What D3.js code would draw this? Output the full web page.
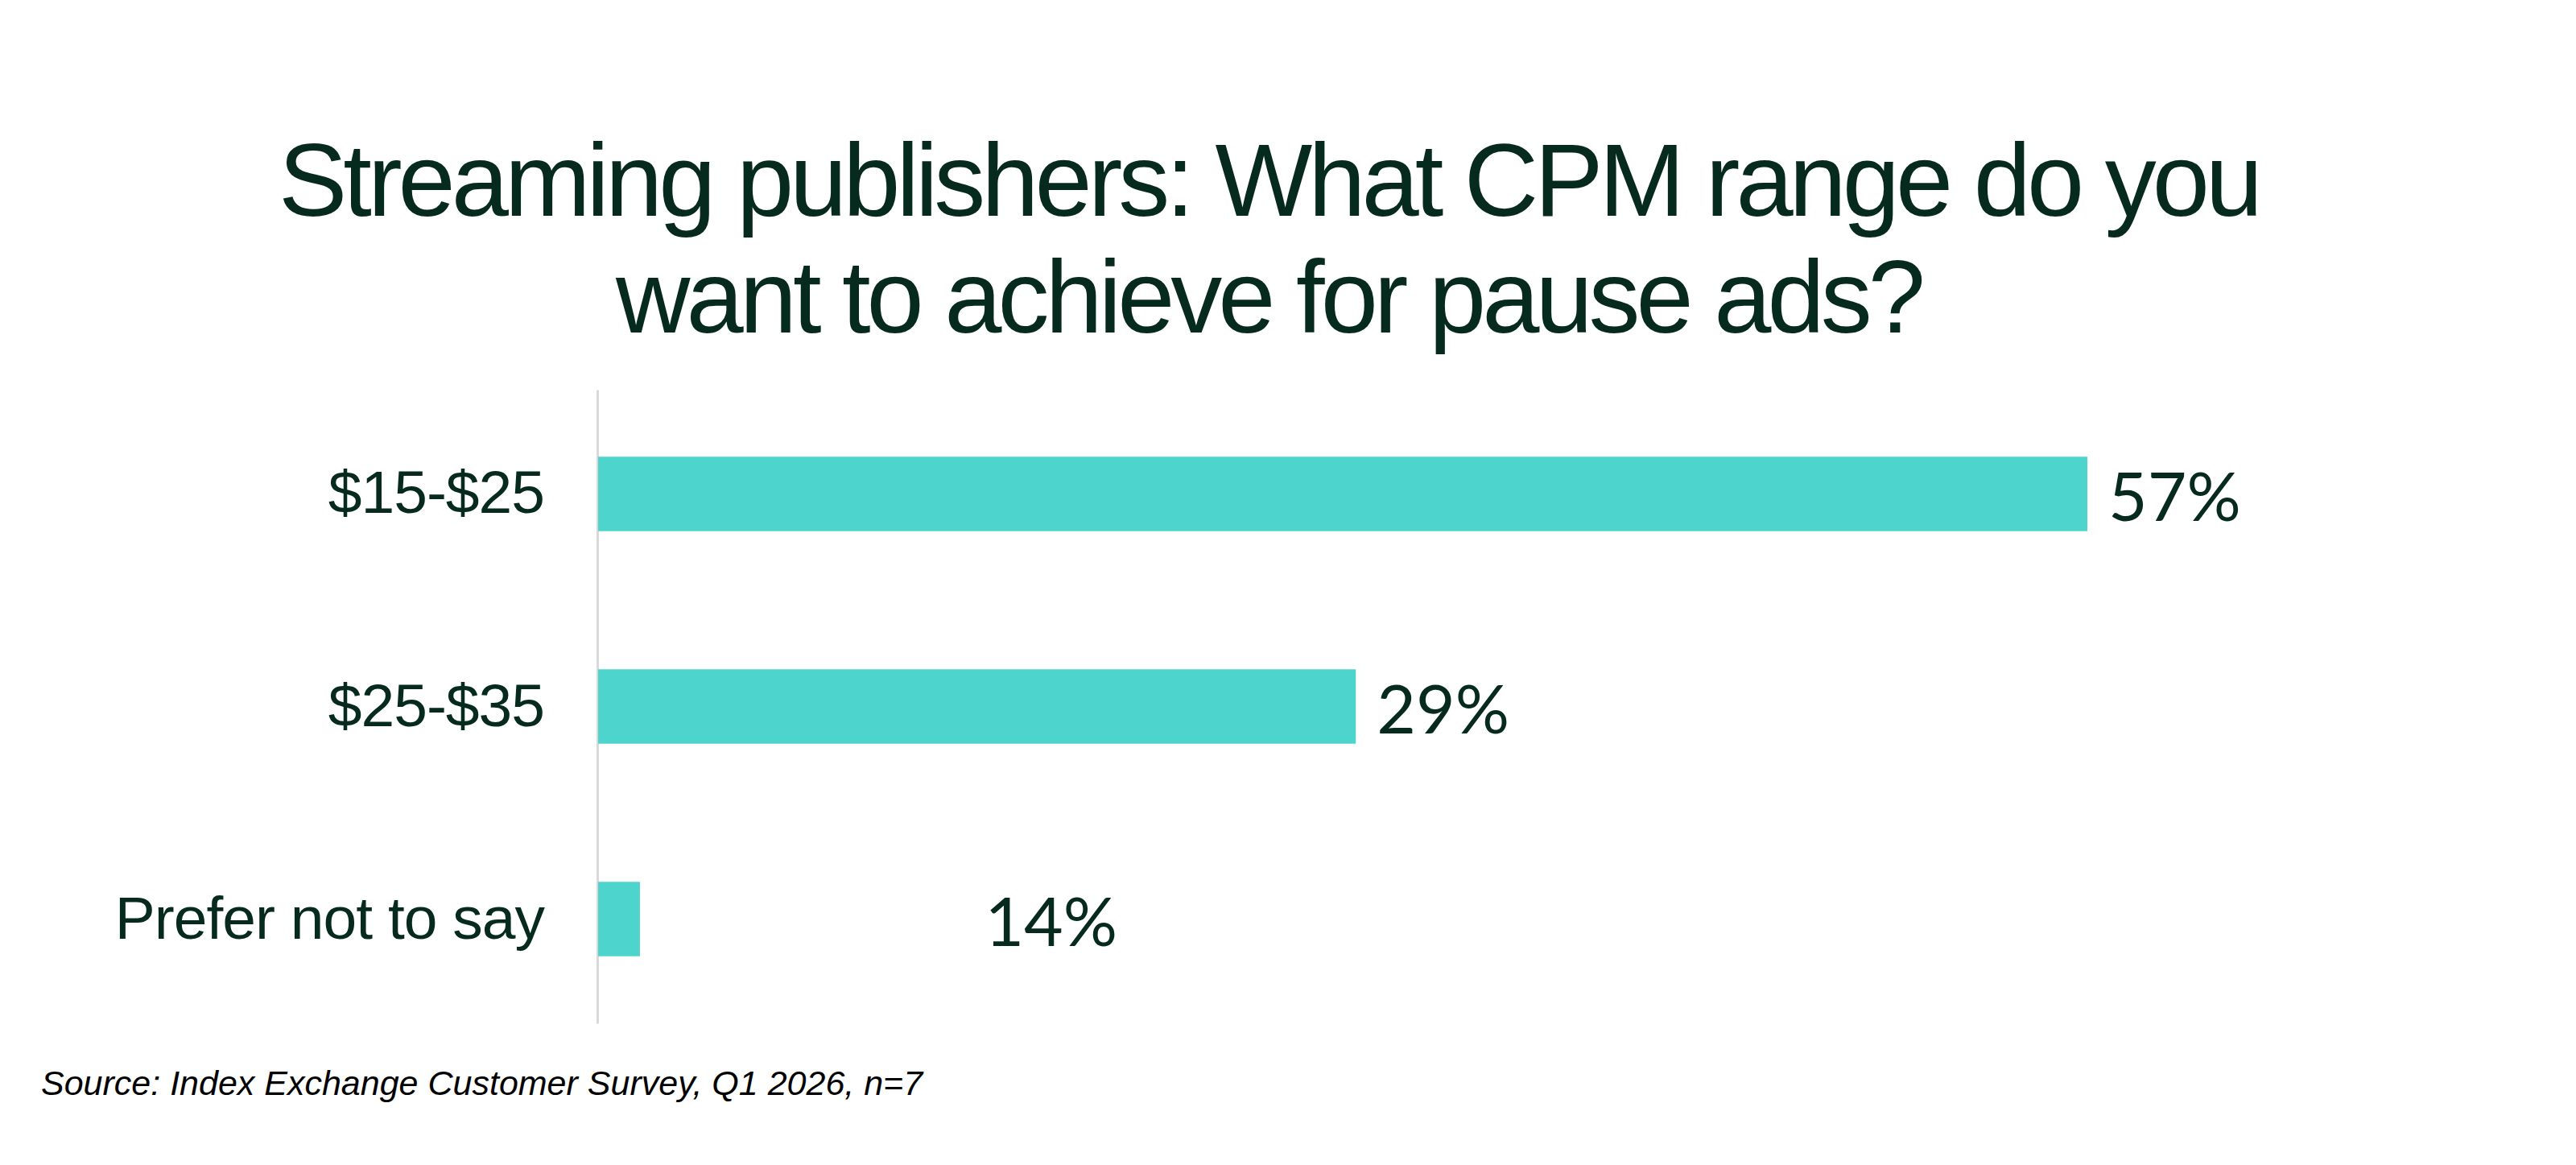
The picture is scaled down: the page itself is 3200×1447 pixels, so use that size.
<!DOCTYPE html>
<html>
<head>
<meta charset="utf-8">
<script src="https://cdn.jsdelivr.net/npm/d3@7"></script>
<style>
  body { margin: 0; background: #ffffff; }
  .cat text { font-family: "Liberation Sans", Arial, sans-serif; }
</style>
</head>
<body>
<div id="vis"></div>
<script>
// ---- data ----
const titleLines = ["Streaming publishers: What CPM range do you", "want to achieve for pause ads?"];
const categories = ["$15-$25", "$25-$35", "Prefer not to say"];
const shares = [57, 29, 14];          // printed values (%), also position the labels
const drawnLength = [57, 29, 1.6];    // bar length as drawn in the source (last bar is drawn short)
const sourceNote = "Source: Index Exchange Customer Survey, Q1 2026, n=7";

const ctx = {
    w: 3200,
    h: 1447,
    axisX: 742,
    plotW: 1850,
    top: 484,
    bottom: 1271,
    ink: "#062a1e",
    bar: "#4dd4cc"
};

function createViz() {
    let svg = d3.select("#vis").append("svg")
        .attr("width", ctx.w)
        .attr("height", ctx.h);

    let xScale = d3.scaleLinear()
        .domain([0, d3.max(shares)])
        .range([ctx.axisX + 1, ctx.axisX + 1 + ctx.plotW]);

    let yScale = d3.scaleBand()
        .domain(categories)
        .range([ctx.top, ctx.bottom])
        .paddingInner(0.65)
        .paddingOuter(0.3155);

    // title
    svg.append("g")
        .selectAll("text")
        .data(titleLines)
        .enter()
        .append("text")
        .attr("x", 1576)
        .attr("y", (d, i) => 268 + i * 145)
        .style("text-anchor", "middle")
        .style("font-family", "'Liberation Sans', Arial, sans-serif")
        .style("font-size", "128px")
        .style("letter-spacing", "-5px")
        .style("fill", ctx.ink)
        .text(d => d);

    // category axis
    let axisG = svg.append("g")
        .attr("class", "cat")
        .attr("transform", `translate(${ctx.axisX},0)`)
        .call(d3.axisLeft(yScale).tickSize(0).tickSizeOuter(0).tickPadding(66));
    axisG.select(".domain")
        .style("stroke", "#d9d9d9")
        .style("stroke-width", 3);
    axisG.selectAll("text")
        .style("font-size", "75px")
        .style("letter-spacing", "-1px")
        .style("fill", ctx.ink);

    // bars
    svg.append("g")
        .selectAll("rect")
        .data(categories)
        .enter()
        .append("rect")
        .attr("x", xScale(0))
        .attr("y", d => yScale(d))
        .attr("width", (d, i) => xScale(drawnLength[i]) - xScale(0))
        .attr("height", yScale.bandwidth())
        .style("fill", ctx.bar);

    // value labels
    svg.append("g")
        .selectAll("text")
        .data(categories)
        .enter()
        .append("text")
        .attr("x", (d, i) => xScale(shares[i]) + 26)
        .attr("y", d => yScale(d) + yScale.bandwidth() / 2)
        .attr("dy", "0.4em")
        .style("font-family", "Lato, 'Open Sans', sans-serif")
        .style("font-size", "84px")
        .style("fill", ctx.ink)
        .text((d, i) => `${shares[i]}%`);

    // source note
    svg.append("text")
        .attr("x", 51)
        .attr("y", 1360)
        .style("font-family", "'Liberation Sans', Arial, sans-serif")
        .style("font-style", "italic")
        .style("font-size", "43px")
        .style("fill", "#000000")
        .text(sourceNote);
}

createViz();
</script>
</body>
</html>
